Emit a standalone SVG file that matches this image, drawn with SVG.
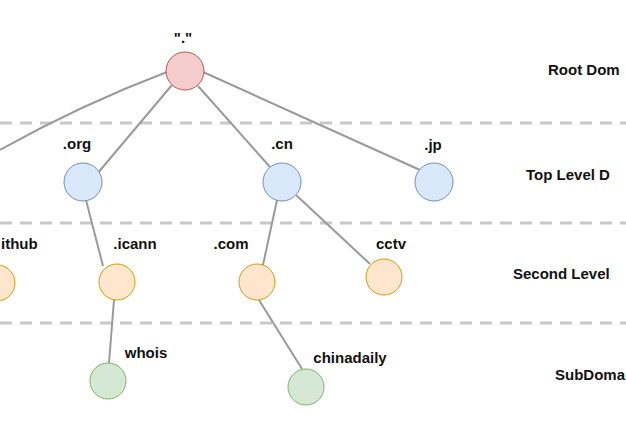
<svg xmlns="http://www.w3.org/2000/svg" width="626" height="427" viewBox="0 0 626 427">
<style>
.d{stroke:#c8c8c8;stroke-width:3;stroke-dasharray:12 8;fill:none}
.e{stroke:#9a9a9a;stroke-width:2;fill:none}
.r{fill:#f4cccc;stroke:#b85450;stroke-width:1}
.b{fill:#dae8fc;stroke:#6c8ebf;stroke-width:1}
.o{fill:#ffe6cc;stroke:#d79b00;stroke-width:1}
.g{fill:#d5e8d4;stroke:#82b366;stroke-width:1}
text{font-family:"Liberation Sans",Arial,sans-serif;font-weight:bold;font-size:15px;fill:#111}
.t{text-anchor:middle}
</style>
<g id="levels">
<line class="d" x1="0" y1="123" x2="626" y2="123"/>
<line class="d" x1="0" y1="223" x2="626" y2="223"/>
<line class="d" x1="0" y1="323" x2="626" y2="323"/>
<text x="548" y="75">Root Dom</text>
<text x="526" y="180">Top Level D</text>
<text x="513" y="279">Second Level</text>
<text x="555" y="380">SubDoma</text>
</g>
<g id="connectors">
<path class="e" d="M167 72 Q80 105 0 150"/>
<line class="e" x1="172" y1="85" x2="97" y2="174"/>
<line class="e" x1="198" y1="86" x2="270" y2="167"/>
<line class="e" x1="203" y1="72" x2="420" y2="170"/>
<line class="e" x1="86" y1="200" x2="103" y2="266"/>
<line class="e" x1="277" y1="200" x2="263" y2="265"/>
<line class="e" x1="296" y1="195" x2="370" y2="264"/>
<line class="e" x1="114" y1="300" x2="109" y2="363"/>
<line class="e" x1="259" y1="300" x2="302" y2="369"/>
</g>
<g id="root"><circle class="r" cx="185" cy="71" r="19"/><text class="t" x="183" y="43">"."</text></g>
<g id="org"><circle class="b" cx="83" cy="182" r="19"/><text class="t" x="77" y="149">.org</text></g>
<g id="cn"><circle class="b" cx="282" cy="182" r="19"/><text class="t" x="282" y="149">.cn</text></g>
<g id="jp"><circle class="b" cx="434" cy="182" r="19"/><text class="t" x="433" y="150">.jp</text></g>
<g id="github"><circle class="o" cx="-3" cy="283" r="18"/><text x="1" y="249">ithub</text></g>
<g id="icann"><circle class="o" cx="117" cy="282" r="18"/><text class="t" x="135" y="249">.icann</text></g>
<g id="com"><circle class="o" cx="257" cy="282" r="18"/><text class="t" x="231" y="249">.com</text></g>
<g id="cctv"><circle class="o" cx="384" cy="277" r="18"/><text class="t" x="391" y="249">cctv</text></g>
<g id="whois"><circle class="g" cx="108" cy="381" r="18"/><text class="t" x="146" y="358">whois</text></g>
<g id="chinadaily"><circle class="g" cx="306" cy="387" r="18"/><text class="t" x="350" y="363">chinadaily</text></g>
</svg>
